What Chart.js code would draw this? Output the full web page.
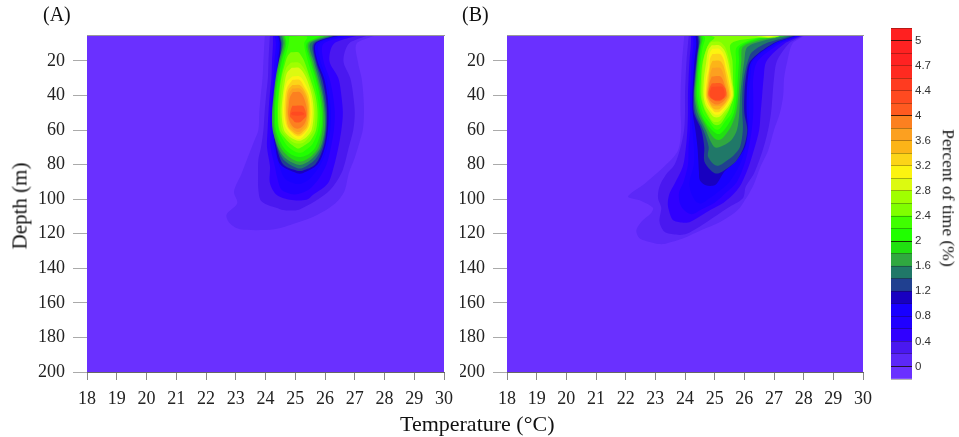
<!DOCTYPE html>
<html>
<head>
<meta charset="utf-8">
<script src="https://cdn.jsdelivr.net/npm/chart.js@4"></script>
<style>
    html, body { margin: 0; padding: 0; background: #fff; }
    #page { position: relative; width: 959px; height: 437px; overflow: hidden; filter: blur(0.45px); }
    canvas { position: absolute; top: 0; }
    .txt { position: absolute; font-family: "Liberation Serif", serif; color: #111; white-space: nowrap; line-height: 1; }
</style>
</head>
<body>
<div id="page">
    <canvas id="panelA" width="470" height="437" style="left:0"></canvas>
    <canvas id="panelB" width="420" height="437" style="left:460px"></canvas>
    <canvas id="bar" width="60" height="437" style="left:880px"></canvas>
    <span class="txt" style="left:43px;top:4px;font-size:20px">(A)</span>
    <span class="txt" style="left:462px;top:4px;font-size:20px">(B)</span>
    <span class="txt" style="left:400px;top:413px;font-size:22px">Temperature (°C)</span>
    <span class="txt" style="left:20px;top:206px;font-size:21px;transform:translate(-50%,-50%) rotate(-90deg)">Depth (m)</span>
    <span class="txt" style="left:948px;top:198px;font-size:17.5px;transform:translate(-50%,-50%) rotate(90deg)">Percent of time (%)</span>
</div>
<script>
// #region data
const depthTicks = [20, 40, 60, 80, 100, 120, 140, 160, 180, 200];
const tempTicks = [18, 19, 20, 21, 22, 23, 24, 25, 26, 27, 28, 29, 30];

// colour bar, bottom band first
const bandColors = [
    '#6a30ff', '#5c28f8', '#4a18f0', '#3000ff', '#2000ff', '#1800ff', '#1800c0',
    '#204090', '#207868', '#30a840', '#20e010', '#20ff00', '#40ff00', '#80ff00',
    '#a0ff00', '#dcfa10', '#fcf410', '#fcd418', '#fcb418', '#fca020', '#fc8020',
    '#ff5a20', '#ff4a20', '#ff3b20', '#ff2a20', '#ff2222', '#ff2222', '#ff2020'
];
const barLabels = { 1: '0', 3: '0.4', 5: '0.8', 7: '1.2', 9: '1.6', 11: '2', 13: '2.4', 15: '2.8', 17: '3.2', 19: '3.6', 21: '4', 23: '4.4', 25: '4.7', 27: '5' };

// contour rows: [depth, left temp, right temp]; entry i is band i + 1
const contoursA = [
    [[5,23.98,27.68],[10,23.96,27.06],[20,23.93,27.1],[30,23.9,27.23],[40,23.84,27.29],[50,23.79,27.31],[60,23.76,27.27],[67.6,23.59,27.15],[76,23.4,27],[85,23.2,26.8],[95.6,22.94,26.65],[102.4,23.05,26.35],[109,22.69,25.75],[114,22.8,25],[117.4,23.14,24.3]],
    [[5,24.15,27.4],[10,24.13,26.8],[20,24.1,26.62],[30,24.08,26.85],[40,24.02,26.95],[50,23.97,27],[60,23.93,26.95],[70,23.85,26.8],[77,23.76,26.7],[85,23.75,26.55],[94.6,23.76,26.18],[101.4,23.87,25.65],[105.8,24.49,25.16],[106.5,24.7,25]],
    [[5,24.25,27.1],[10,24.25,26.3],[20,24.22,26.15],[30,24.2,26.45],[40,24.14,26.55],[50,24.1,26.6],[60,24.07,26.55],[70,24.05,26.45],[81,24.15,26.3],[90.8,24.15,26.1],[97.5,24.37,25.6],[100.4,24.82,25.38]],
    [[5,24.3,26.9],[10,24.35,25.95],[20,24.3,25.95],[30,24.27,26.15],[40,24.22,26.27],[50,24.17,26.33],[60,24.17,26.3],[70,24.17,26.2],[80,24.3,26.05],[88,24.4,25.8],[94.6,24.54,25.45],[97,24.85,25.1]],
    [[5,24.38,26.7],[10,24.42,25.8],[20,24.38,25.85],[30,24.33,26.05],[40,24.27,26.15],[50,24.22,26.2],[60,24.22,26.18],[70,24.27,26.08],[80,24.45,25.85],[88,24.65,25.5],[91,25,25.2]],
    [[5,24.42,26.5],[10,24.48,25.7],[20,24.42,25.75],[30,24.37,25.97],[40,24.31,26.08],[50,24.26,26.12],[60,24.26,26.1],[70,24.33,26],[80,24.5,25.75],[85,25.05,25.25]],
    [[5,24.45,26.35],[10,24.52,25.65],[20,24.46,25.7],[30,24.4,25.9],[40,24.34,26.02],[50,24.27,26.07],[60,24.27,26.05],[70,24.37,25.95],[80,24.6,25.67],[83.5,25.05,25.25]],
    [[5,24.48,26.3],[10,24.55,25.6],[20,24.48,25.67],[30,24.38,25.84],[40,24.3,25.96],[50,24.25,26.03],[60,24.26,26.02],[70,24.4,25.9],[77,24.6,25.67],[82,25.05,25.25]],
    [[5,24.55,26.2],[10,24.6,25.5],[20,24.45,25.62],[30,24.34,25.78],[40,24.27,25.92],[50,24.22,25.99],[60,24.24,25.99],[70,24.42,25.85],[76,24.65,25.6],[80,25.05,25.25]],
    [[5,24.6,26.05],[10,24.65,25.44],[20,24.5,25.56],[30,24.38,25.73],[40,24.31,25.87],[50,24.27,25.94],[60,24.3,25.92],[70,24.5,25.78],[75,24.75,25.55],[78,25.05,25.25]],
    [[5,24.65,25.9],[10,24.7,25.38],[20,24.55,25.5],[30,24.43,25.68],[40,24.35,25.82],[50,24.32,25.89],[60,24.35,25.87],[70,24.6,25.68],[74,24.85,25.45],[75.5,25.08,25.22]],
    [[6,24.8,25.4],[10,24.78,25.3],[20,24.63,25.42],[30,24.5,25.6],[40,24.42,25.74],[50,24.39,25.82],[60,24.44,25.77],[68,24.68,25.58],[71.5,24.9,25.35],[73,25.08,25.22]],
    [[15,24.85,25.1],[17,24.75,25.2],[20,24.68,25.3],[30,24.53,25.5],[40,24.45,25.68],[50,24.42,25.75],[60,24.47,25.7],[66,24.72,25.52],[69,24.92,25.3],[70.5,25.05,25.15]],
    [[21,24.85,25.12],[24,24.7,25.28],[30,24.6,25.45],[40,24.52,25.62],[50,24.49,25.68],[60,24.55,25.62],[65,24.78,25.42],[67.5,24.98,25.25]],
    [[24,24.88,25.12],[27,24.72,25.28],[32,24.65,25.42],[40,24.58,25.56],[50,24.54,25.62],[60,24.62,25.55],[64,24.82,25.38],[66,25.05,25.2]],
    [[29,24.9,25.15],[32,24.72,25.3],[40,24.62,25.5],[50,24.59,25.56],[58,24.66,25.5],[63,24.88,25.3],[65,25.05,25.18]],
    [[31,24.9,25.15],[35,24.74,25.3],[40,24.67,25.45],[50,24.64,25.51],[58,24.72,25.45],[62,24.92,25.28],[63.5,25.05,25.15]],
    [[34,24.9,25.15],[37,24.76,25.3],[42,24.71,25.42],[50,24.69,25.47],[58,24.76,25.4],[61,24.92,25.25],[62.5,25.05,25.15]],
    [[36,24.9,25.15],[39,24.79,25.3],[44,24.75,25.4],[50,24.73,25.43],[57,24.81,25.36],[60,24.95,25.22],[61,25.05,25.15]],
    [[38,24.92,25.15],[41,24.82,25.28],[46,24.78,25.37],[51,24.76,25.4],[56,24.84,25.32],[59,25,25.15]],
    [[46,24.9,25.25],[49,24.84,25.34],[52,24.82,25.36],[54,24.92,25.26],[55.5,25,25.15]],
    [[49.5,24.9,25.22],[50.5,24.86,25.3],[51.5,24.92,25.24]]
];
const contoursB = [
    [[5,23.98,28],[10,23.95,27.62],[20,23.9,27.45],[30,23.87,27.34],[40,23.85,27.31],[50,23.85,27.2],[60,23.87,27],[72,23.76,26.8],[81,23.31,26.55],[91,22.64,26.33],[98.5,22.08,26.1],[101,22.53,26],[105,22.92,25.85],[108,22.86,25.66],[113,22.53,25.2],[118,22.36,24.54],[122.6,22.47,23.95],[125.5,22.97,23.4],[126,23.1,23.3]],
    [[5,24.13,27.95],[10,24.1,27.5],[20,24.05,27.1],[30,24.02,27],[40,24,26.95],[50,24,26.9],[60,23.97,26.8],[70,23.85,26.65],[80,23.65,26.45],[86,23.35,26.3],[92.7,23.14,26.05],[99.5,23.09,25.95],[105,23.2,25.45],[113,23.14,24.75],[118.8,23.31,24.2],[120.5,23.7,23.95]],
    [[5,24.2,27.9],[10,24.2,27.35],[20,24.15,26.75],[30,24.12,26.65],[40,24.1,26.6],[50,24.1,26.55],[60,24.08,26.5],[70,24.03,26.35],[81,23.93,26.15],[91,23.65,25.9],[96.6,23.48,25.66],[102,23.42,25.3],[106,23.45,24.88],[112,23.59,24.3],[113.5,23.9,24.1]],
    [[5,24.25,27.85],[10,24.28,27.2],[20,24.22,26.45],[30,24.2,26.3],[40,24.17,26.3],[50,24.17,26.3],[60,24.17,26.25],[70,24.12,26.15],[80,24.1,26],[90,23.95,25.75],[96,23.8,25.4],[102,23.82,25],[106,23.95,24.55],[108.5,24.15,24.3]],
    [[5,24.3,27.8],[10,24.33,27.1],[20,24.28,26.3],[30,24.25,26.2],[40,24.22,26.15],[50,24.22,26.15],[60,24.25,26.15],[70,24.3,26.05],[80,24.3,25.85],[90,24.15,25.5],[96,24.2,25.1],[101,24.35,24.7],[102.5,24.5,24.55]],
    [[5,24.35,27.75],[10,24.38,27],[20,24.32,26.25],[30,24.28,26.12],[40,24.25,26.08],[50,24.26,26.08],[60,24.35,26.12],[70,24.42,26.02],[78,24.45,25.72],[84,24.47,25.33],[89,24.5,25.15],[92,24.7,25]],
    [[5,24.42,27.7],[10,24.45,26.95],[20,24.38,26.2],[30,24.32,26.05],[40,24.28,26],[50,24.3,26],[60,24.55,26.1],[70,24.65,25.98],[78,24.65,25.72],[83,24.85,25.35],[85,25,25.15]],
    [[5,24.45,27.6],[10,24.5,26.7],[15,24.43,26.25],[20,24.4,26.12],[30,24.34,25.98],[40,24.3,25.93],[50,24.35,25.93],[60,24.62,25.95],[70,24.8,25.85],[75,24.77,25.62],[79,24.92,25.3],[80.5,25.05,25.15]],
    [[5,24.48,27.55],[8,24.5,26.7],[12,24.47,26.1],[20,24.41,26],[30,24.36,25.92],[40,24.32,25.86],[50,24.42,25.83],[60,24.7,25.75],[66,24.85,25.55],[70,25,25.15]],
    [[5,24.52,27.45],[8,24.55,26.5],[12,24.5,25.95],[20,24.44,25.9],[30,24.39,25.85],[40,24.36,25.8],[50,24.48,25.72],[58,24.72,25.55],[63,24.9,25.35],[65.5,25.05,25.2]],
    [[5,24.56,27.4],[7,24.6,26.5],[12,24.54,25.85],[20,24.48,25.82],[30,24.43,25.78],[40,24.41,25.74],[50,24.53,25.65],[57,24.75,25.45],[62,25.05,25.2]],
    [[5,24.62,27.35],[7,24.68,26.4],[12,24.6,25.75],[20,24.53,25.72],[30,24.48,25.7],[40,24.47,25.68],[50,24.6,25.57],[55,24.8,25.35],[59.5,25.02,25.15]],
    [[5,24.75,27.3],[6.5,25,26.5],[10,24.8,25.55],[20,24.6,25.6],[30,24.54,25.62],[40,24.53,25.62],[48,24.65,25.5],[54,24.85,25.3],[57,25,25.15]],
    [[9,24.88,25.18],[12,24.75,25.35],[20,24.62,25.5],[30,24.58,25.58],[40,24.57,25.65],[47,24.66,25.5],[52,24.82,25.3],[55,24.95,25.15]],
    [[11,24.9,25.15],[14,24.78,25.33],[20,24.72,25.45],[30,24.64,25.55],[40,24.62,25.62],[46,24.7,25.48],[50,24.85,25.3],[52.5,24.98,25.15]],
    [[13,24.92,25.15],[16,24.82,25.3],[22,24.78,25.4],[30,24.7,25.5],[40,24.66,25.58],[45,24.74,25.45],[49,24.88,25.28],[51,25,25.15]],
    [[16,24.92,25.18],[19,24.84,25.3],[24,24.82,25.37],[30,24.75,25.46],[40,24.7,25.54],[45,24.78,25.4],[48,24.92,25.25],[49.5,25,25.15]],
    [[20,24.92,25.18],[23,24.85,25.3],[32,24.78,25.42],[40,24.73,25.5],[44,24.82,25.38],[47,24.92,25.22],[48,25,25.15]],
    [[24,24.92,25.18],[27,24.86,25.28],[35,24.78,25.4],[40,24.75,25.46],[44,24.84,25.35],[46,24.95,25.2]],
    [[29,24.9,25.2],[33,24.82,25.32],[40,24.78,25.42],[43,24.85,25.32],[45,25,25.15]],
    [[33,24.9,25.22],[36,24.82,25.36],[40,24.8,25.38],[43,25,25.2]],
    [[35,24.9,25.25],[38,24.84,25.33],[41,24.86,25.32],[42.5,25,25.18]]
];
// warm streak along the surface in panel B: [band, rows]
const tailB = [
    [14, [[5,26.3,27.25],[6.5,26.6,27]]],
    [15, [[5,26.45,27.15],[6,26.7,26.95]]],
    [16, [[5,26.62,27.07],[5.6,26.75,26.95]]]
];
// #endregion data


const serif = 'Liberation Serif';

const plotBackground = {
    id: 'plotBackground',
    beforeDraw(chart) {
        const { ctx, chartArea: a } = chart;
        ctx.save();
        ctx.fillStyle = bandColors[0];
        ctx.fillRect(a.left, a.top, a.width, a.height);
        ctx.restore();
    }
};

function contourPoints(rows) {
    const left = rows.map(r => ({ x: r[1], y: r[0] }));
    const right = rows.map(r => ({ x: r[2], y: r[0] })).reverse();
    return left.concat(right, [left[0]]);
}

function contourDataset(band, rows) {
    return {
        data: contourPoints(rows),
        showLine: true,
        fill: 'shape',
        tension: 0.3,
        borderWidth: 0,
        pointRadius: 0,
        backgroundColor: bandColors[band]
    };
}

function panelChart(id, plotLeft, contours, extra) {
    // first dataset ends up on top, so inner bands go first
    const datasets = [];
    extra.slice().reverse().forEach(e => datasets.push(contourDataset(e[0], e[1])));
    for (let i = contours.length - 1; i >= 0; i--) {
        datasets.push(contourDataset(i + 1, contours[i]));
    }
    const canvas = document.getElementById(id);
    new Chart(canvas, {
        type: 'scatter',
        data: { datasets },
        plugins: [plotBackground],
        options: {
            responsive: false,
            animation: false,
            layout: { autoPadding: false, padding: { left: 0, top: 35, right: canvas.width - plotLeft - 357, bottom: 0 } },
            plugins: { legend: { display: false }, tooltip: { enabled: false } },
            scales: {
                x: {
                    type: 'linear', min: 18, max: 30,
                    afterBuildTicks: s => { s.ticks = tempTicks.map(value => ({ value })); },
                    afterFit: s => { s.height = 65; },
                    grid: { drawOnChartArea: false, tickLength: 8, tickColor: '#888' },
                    border: { color: '#666', z: 1 },
                    ticks: { autoSkip: false, maxRotation: 0, padding: 8, color: '#222', font: { family: serif, size: 18 } }
                },
                xTop: {
                    type: 'linear', position: 'top', min: 18, max: 30,
                    afterFit: s => { s.height = 0; },
                    grid: { drawOnChartArea: false, drawTicks: false },
                    border: { color: '#999', z: 1 },
                    ticks: { display: false }
                },
                y: {
                    type: 'linear', reverse: true, min: 5, max: 200,
                    afterBuildTicks: s => { s.ticks = depthTicks.map(value => ({ value })); },
                    afterFit: s => { s.width = plotLeft; },
                    grid: { drawOnChartArea: false, tickLength: 14, tickColor: '#aaa' },
                    border: { display: false },
                    ticks: { autoSkip: false, padding: 8, color: '#222', font: { family: serif, size: 18 } }
                }
            }
        }
    });
}

panelChart('panelA', 87, contoursA, []);
panelChart('panelB', 47, contoursB, tailB);

new Chart(document.getElementById('bar'), {
    type: 'bar',
    data: {
        labels: [''],
        datasets: bandColors.map(c => ({ data: [1], backgroundColor: c, borderWidth: 0, barPercentage: 1, categoryPercentage: 1 }))
    },
    options: {
        responsive: false,
        animation: false,
        layout: { autoPadding: false, padding: { left: 11, top: 28, right: 0, bottom: 58 } },
        plugins: { legend: { display: false }, tooltip: { enabled: false } },
        scales: {
            x: { stacked: true, display: false },
            y: {
                stacked: true, position: 'right', min: 0, max: 28,
                afterFit: s => { s.width = 28; },
                grid: {
                    z: 1,
                    drawTicks: false,
                    color: c => ([1, 11, 21, 27].includes(c.tick.value) ? 'rgba(20,10,0,0.8)' : 'rgba(20,10,0,0.3)')
                },
                border: { display: false },
                ticks: {
                    stepSize: 1, autoSkip: false, padding: 3, color: '#333',
                    font: { family: 'Liberation Sans', size: 11.5 },
                    callback: v => barLabels[v] || ''
                }
            }
        }
    }
});
</script>
</body>
</html>
